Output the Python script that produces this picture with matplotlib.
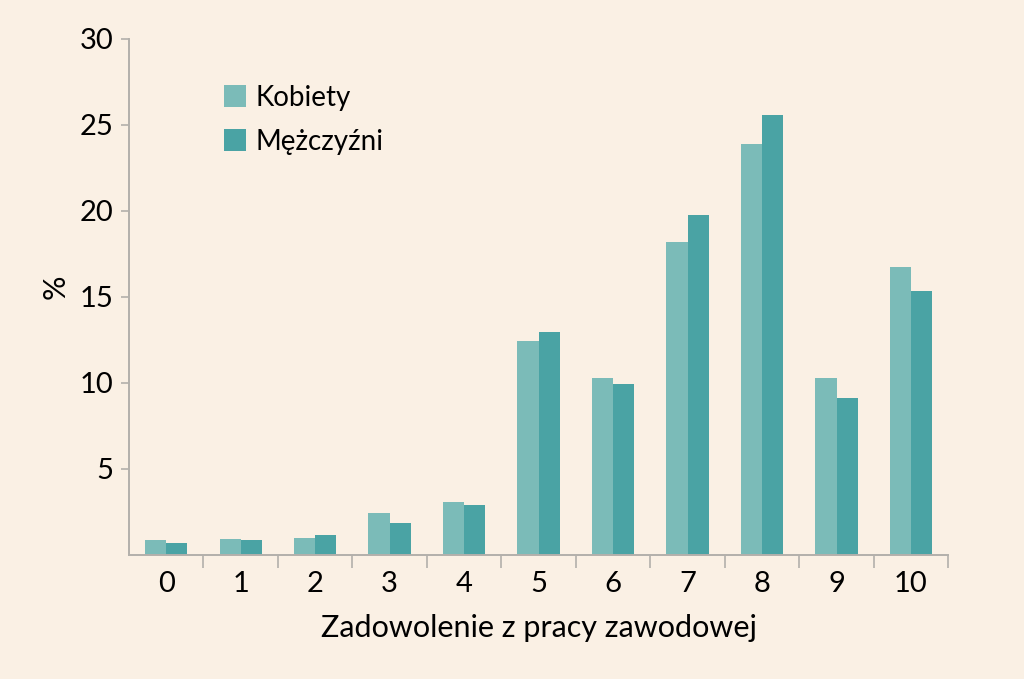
import numpy as np
import matplotlib.pyplot as plt
from matplotlib.ticker import FixedLocator

# ───────────── data ─────────────
categories = ["0", "1", "2", "3", "4", "5", "6", "7", "8", "9", "10"]
kobiety = [0.84, 0.93, 0.97, 2.45, 3.09, 12.41, 10.27, 18.19, 23.9, 10.27, 16.73]
mezczyzni = [0.68, 0.88, 1.15, 1.85, 2.88, 12.95, 9.96, 19.74, 25.57, 9.1, 15.36]
series_names = ["Kobiety", "Mężczyźni"]
y_ticks = [5, 10, 15, 20, 25, 30]

# ───────────── style ─────────────
bg = "#FAF0E4"
col_k = "#7BBBB8"
col_m = "#4AA3A4"
axis_col = "#B3B0AB"
plt.rcParams["font.family"] = ["Lato", "DejaVu Sans"]

fig = plt.figure(figsize=(10.24, 6.79), dpi=100, facecolor=bg)
ax = fig.add_axes([0.126, 0.183, 0.8, 0.7596], facecolor=bg)

x = np.arange(len(categories))
w = 0.285
ax.bar(x - w / 2, kobiety, width=w, color=col_k, label=series_names[0])
ax.bar(x + w / 2, mezczyzni, width=w, color=col_m, label=series_names[1])

ax.set_xlim(-0.5, len(categories) - 0.5)
ax.set_ylim(0, 30)

ax.set_xticks(x)
ax.set_xticklabels(categories)
ax.xaxis.set_minor_locator(FixedLocator(np.arange(0.5, len(categories), 1.0)))
ax.tick_params(axis="x", which="major", length=0, pad=12, labelsize=21)
ax.tick_params(axis="x", which="minor", length=9, width=1.2, color=axis_col)

ax.set_yticks(y_ticks)
ax.tick_params(axis="y", length=6, width=1.2, color=axis_col, pad=5, labelsize=21)

for s in ["top", "right"]:
    ax.spines[s].set_visible(False)
for s in ["left", "bottom"]:
    ax.spines[s].set_color(axis_col)
    ax.spines[s].set_linewidth(1.4)

ax.set_xlabel("Zadowolenie z pracy zawodowej", fontsize=22, labelpad=12)
ax.set_ylabel("%", fontsize=22)
ax.yaxis.set_label_coords(-0.072, 0.52)

ax.legend(loc="upper left", bbox_to_anchor=(0.085, 0.96), frameon=False,
          fontsize=20, handlelength=0.8, handleheight=0.8, handletextpad=0.35,
          labelspacing=0.65)

fig.savefig("out.png", dpi=100, facecolor=bg)
